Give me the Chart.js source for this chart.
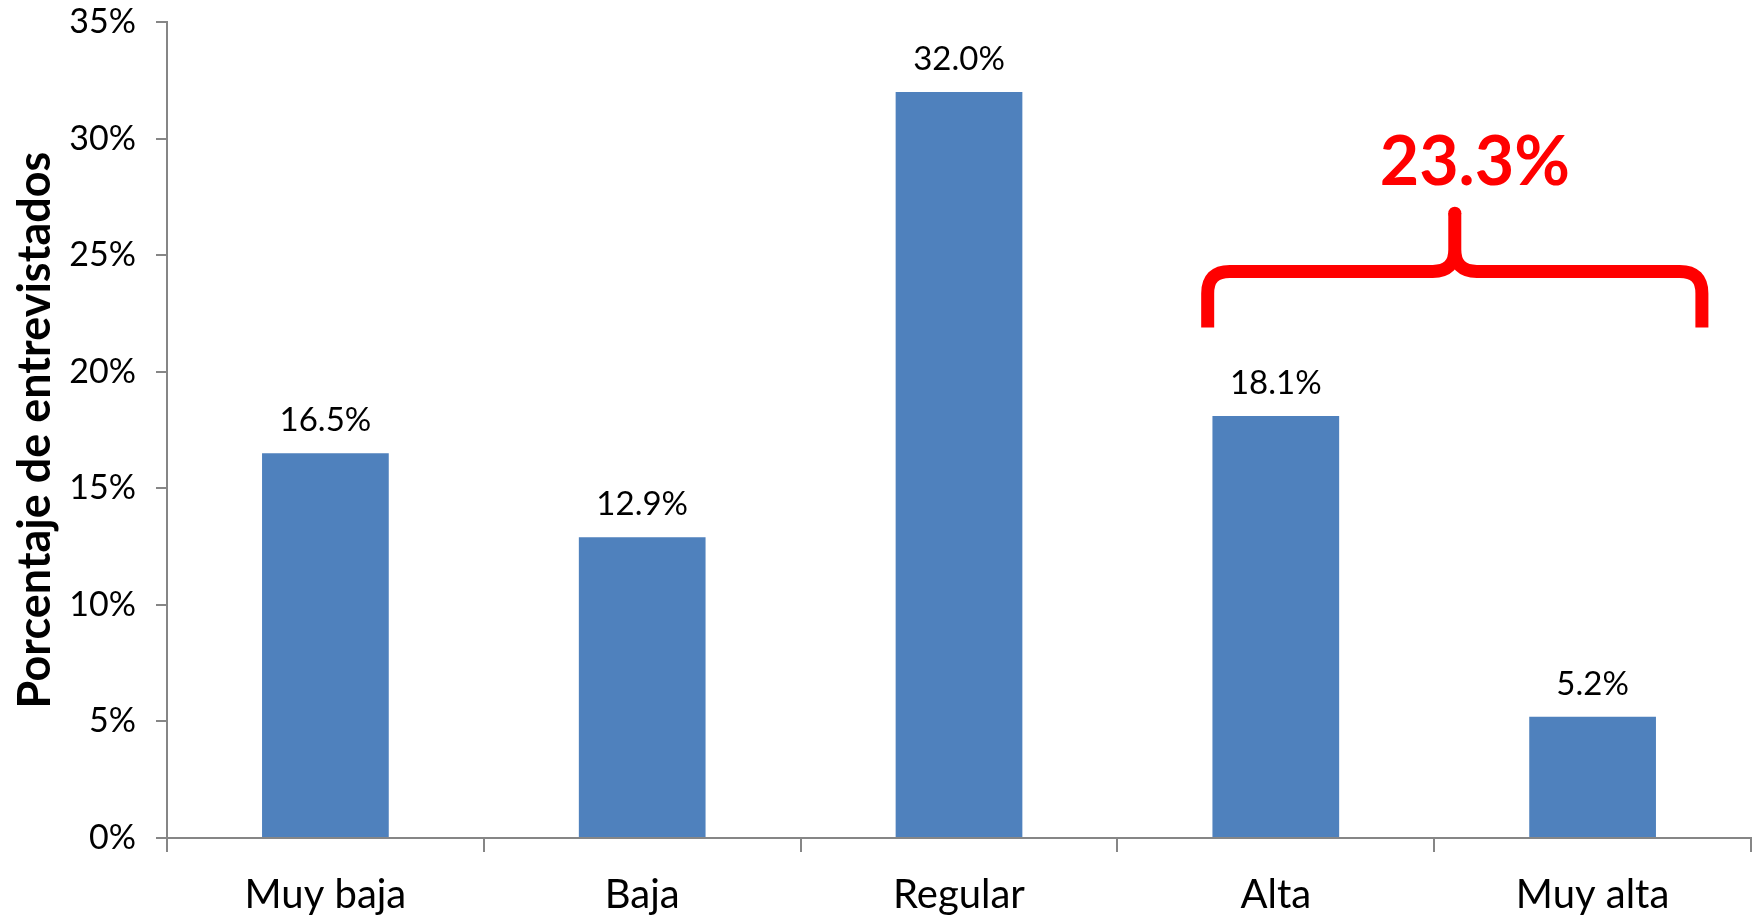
<!DOCTYPE html>
<html>
<head>
<meta charset="utf-8">
<script src="https://cdn.jsdelivr.net/npm/chart.js@4.4.1/dist/chart.umd.min.js"></script>
<style>
  html, body { margin: 0; padding: 0; background: #ffffff; }
  #wrap { width: 1760px; height: 915px; position: relative; }
</style>
</head>
<body>
<div id="wrap"><canvas id="c" width="1760" height="915"></canvas></div>
<script>
const categories = ["Muy baja", "Baja", "Regular", "Alta", "Muy alta"];
const values = [16.5, 12.9, 32.0, 18.1, 5.2];
const yTicks = [0, 5, 10, 15, 20, 25, 30, 35];
const axisTitle = "Porcentaje de entrevistados";
const groupLabel = "23.3%";
const groupFrom = "Alta";
const groupTo = "Muy alta";

const FONT = "Lato, 'Open Sans', sans-serif";
const AXIS_GRAY = "#868686";

const valueLabels = {
  id: "valueLabels",
  afterDatasetsDraw(chart) {
    const ctx = chart.ctx;
    const meta = chart.getDatasetMeta(0);
    ctx.save();
    ctx.fillStyle = "#000";
    ctx.font = "33px " + FONT;
    ctx.textAlign = "center";
    ctx.textBaseline = "bottom";
    meta.data.forEach((bar, i) => {
      ctx.fillText(values[i].toFixed(1) + "%", bar.x, bar.y - 16);
    });
    ctx.restore();
  }
};

const braceAnnot = {
  id: "braceAnnot",
  afterDraw(chart) {
    const xs = chart.scales.x, ys = chart.scales.y;
    const i0 = categories.indexOf(groupFrom), i1 = categories.indexOf(groupTo);
    const xl = xs.getPixelForValue(i0 - 0.215);
    const xr = xs.getPixelForValue(i1 + 0.345);
    const yb = ys.getPixelForValue(21.9);
    const ym = ys.getPixelForValue(24.3);
    const yp = ys.getPixelForValue(26.8);
    const xc = (xl + xr) / 2;
    const r = 22;
    const ctx = chart.ctx;
    ctx.save();
    ctx.strokeStyle = "#FF0000";
    ctx.lineWidth = 13;
    ctx.lineJoin = "round";
    ctx.beginPath();
    ctx.moveTo(xl, yb);
    ctx.lineTo(xl, ym + r);
    ctx.quadraticCurveTo(xl, ym, xl + r, ym);
    ctx.lineTo(xc - r, ym);
    ctx.quadraticCurveTo(xc, ym, xc, ym - r);
    ctx.lineTo(xc, yp);
    ctx.moveTo(xc, ym - r);
    ctx.quadraticCurveTo(xc, ym, xc + r, ym);
    ctx.lineTo(xr - r, ym);
    ctx.quadraticCurveTo(xr, ym, xr, ym + r);
    ctx.lineTo(xr, yb);
    ctx.stroke();
    ctx.beginPath();
    ctx.fillStyle = "#FF0000";
    ctx.arc(xc, yp, 6.5, 0, Math.PI * 2);
    ctx.fill();
    ctx.font = "bold 68px " + FONT;
    ctx.textAlign = "center";
    ctx.textBaseline = "middle";
    ctx.fillText(groupLabel, xc + 20, ys.getPixelForValue(28.95));
    ctx.restore();
  }
};

new Chart(document.getElementById("c"), {
  type: "bar",
  data: {
    labels: categories,
    datasets: [{
      data: values,
      backgroundColor: "#4F81BD",
      borderWidth: 0,
      barPercentage: 0.4,
      categoryPercentage: 1.0
    }]
  },
  options: {
    responsive: false,
    animation: false,
    devicePixelRatio: 1,
    layout: { padding: { top: 22, right: 9, left: 0, bottom: 0 } },
    plugins: {
      legend: { display: false },
      tooltip: { enabled: false }
    },
    scales: {
      x: {
        grid: {
          offset: true,
          drawOnChartArea: false,
          drawTicks: true,
          tickLength: 14,
          color: AXIS_GRAY,
          lineWidth: 2
        },
        border: { color: AXIS_GRAY, width: 2 },
        ticks: {
          color: "#000",
          font: { family: FONT, size: 40 },
          padding: 19,
          maxRotation: 0
        },
        afterFit(scale) { scale.height = 77; }
      },
      y: {
        min: 0,
        max: 35,
        afterBuildTicks(scale) { scale.ticks = yTicks.map(v => ({ value: v })); },
        grid: {
          drawOnChartArea: false,
          drawTicks: true,
          tickLength: 11,
          color: AXIS_GRAY,
          lineWidth: 2
        },
        border: { color: AXIS_GRAY, width: 2 },
        ticks: {
          color: "#000",
          font: { family: FONT, size: 34 },
          padding: 20,
          callback: (v) => v + "%"
        },
        title: {
          display: true,
          text: axisTitle,
          color: "#000",
          font: { family: FONT, size: 45, weight: "bold" },
          padding: { top: 8, bottom: 0 }
        },
        afterFit(scale) {
          scale.width = 167;
          scale.paddingTop = 0;
          scale.paddingBottom = 0;
        }
      }
    }
  },
  plugins: [valueLabels, braceAnnot]
});
</script>
</body>
</html>
